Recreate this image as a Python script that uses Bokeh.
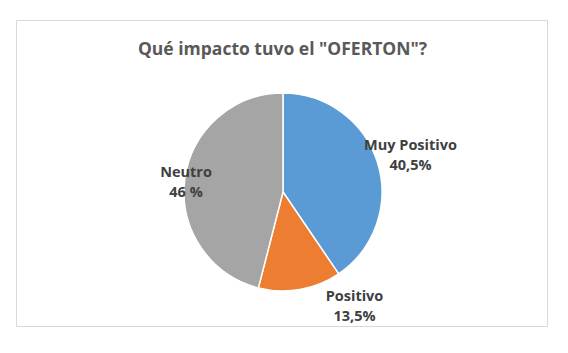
import math
from bokeh.plotting import figure
from bokeh.models import Range1d, ColumnDataSource
from bokeh.core.properties import value
from bokeh.embed import file_html
from bokeh.resources import INLINE

title = 'Qué impacto tuvo el "OFERTON"?'
categories = ["Muy Positivo", "Positivo", "Neutro"]
shares = [40.5, 13.5, 46.0]
pct_labels = ["40,5%", "13,5%", "46 %"]
colors = ["#5B9BD5", "#ED7D31", "#A5A5A5"]

W, H = 568, 353
L, R, T, B = 16, 547, 20, 326

p = figure(width=W, height=H, output_backend="svg", toolbar_location=None,
           x_range=Range1d(L, R), y_range=Range1d(H - B, H - T),
           min_border_left=L, min_border_right=W - R,
           min_border_top=T, min_border_bottom=H - B)
p.axis.visible = False
p.grid.visible = False
p.outline_line_color = "#D9D9D9"
p.outline_line_width = 1
p.background_fill_color = "white"
p.border_fill_color = "white"

def sy(s):
    return H - s

total = sum(shares)
starts, ends = [], []
cum = 0.0
for v in shares:
    starts.append(math.pi / 2 - 2 * math.pi * cum / total)
    cum += v
    ends.append(math.pi / 2 - 2 * math.pi * cum / total)

cx, cy, rad = 282.5, sy(191.5), 99
src = ColumnDataSource(dict(start=starts, end=ends, color=colors, cat=categories))
p.wedge(x=cx, y=cy, radius=rad, start_angle="start", end_angle="end",
        direction="clock", fill_color="color", line_color="white",
        line_width=1.5, source=src)

# title
p.text(x=[(L + R) / 2 + 0.5], y=[sy(47)], text=[title], text_font=value("Open Sans"),
       text_font_size="17.5px", text_font_style="bold", text_color="#595959",
       text_align="center", text_baseline="middle")

# data labels
lab_pos = [(410, 144), (354, 295), (185.5, 171)]
name_x = [pt[0] for pt in lab_pos]
name_y = [sy(pt[1]) for pt in lab_pos]
pct_y = [sy(pt[1] + 20) for pt in lab_pos]
p.text(x=name_x, y=name_y, text=categories, text_font=value("Open Sans"),
       text_font_size="14.5px", text_font_style="bold", text_color="#404040",
       text_align="center", text_baseline="middle")
p.text(x=name_x, y=pct_y, text=pct_labels, text_font=value("Open Sans"),
       text_font_size="14.5px", text_font_style="bold", text_color="#404040",
       text_align="center", text_baseline="middle")

open("out.html", "w").write(file_html(p, INLINE))
